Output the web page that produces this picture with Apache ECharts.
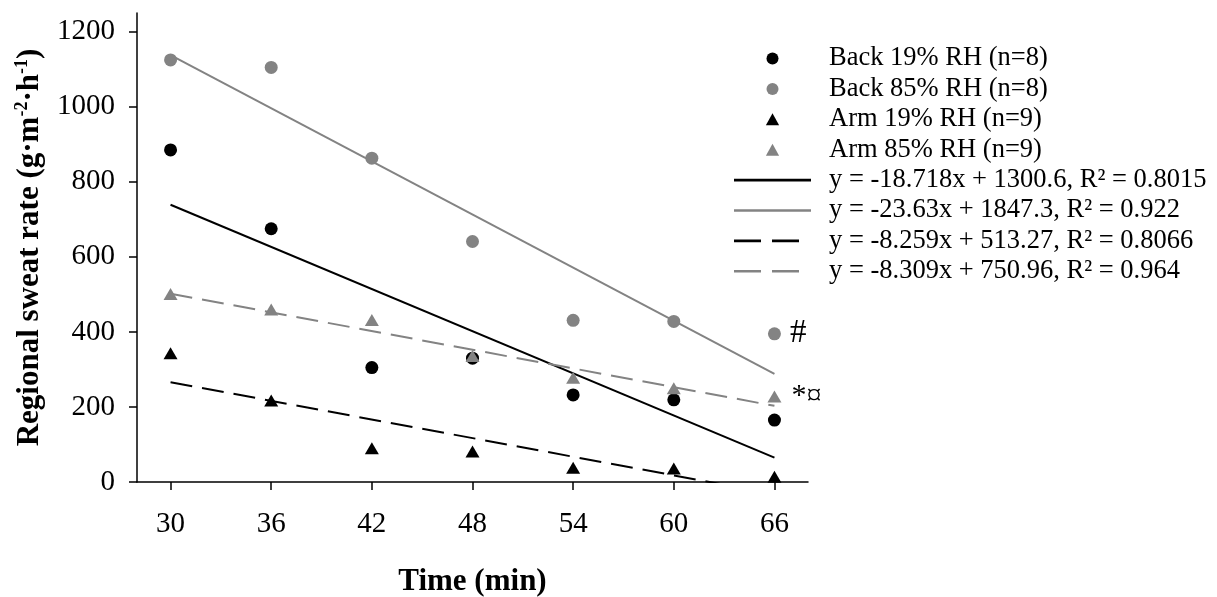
<!DOCTYPE html>
<html>
<head>
<meta charset="utf-8">
<script src="https://cdn.jsdelivr.net/npm/echarts@6/dist/echarts.min.js"></script>
<style>
  html, body { margin: 0; padding: 0; background: #fff; }
  #chart { width: 1217px; height: 597px; }
</style>
</head>
<body>
<div id="chart"></div>
<script>
  // time points (min)
  const times = [30, 36, 42, 48, 54, 60, 66];
  const yTicks = [0, 200, 400, 600, 800, 1000, 1200];

  // regional sweat rate
  const back19 = [885, 675, 305, 330, 232, 219, 165];
  const back85 = [1125, 1105, 863, 641, 431, 428, 395];
  const arm19 = [343, 217, 90, 81, 38, 36, 14];
  const arm85 = [501, 460, 432, 336, 278, 250, 228];

  // trend line end points (x = 30 and x = 66)
  const trendBack19 = [739, 65];
  const trendBack85 = [1138, 288];
  const trendArm19 = [266, -32];
  const trendArm85 = [502, 203];

  const names = [
    "Back 19% RH (n=8)",
    "Back 85% RH (n=8)",
    "Arm 19% RH (n=9)",
    "Arm 85% RH (n=9)",
    "y = -18.718x + 1300.6, R² = 0.8015",
    "y = -23.63x + 1847.3, R² = 0.922",
    "y = -8.259x + 513.27, R² = 0.8066",
    "y = -8.309x + 750.96, R² = 0.964",
  ];

  const GRAY = "#838383";
  const FONT = "Liberation Serif";

  // legend icons
  const TRI = "path://M5.5,0L11,10L0,10Z";
  const SOLID = "path://M0,0h77v2.6h-77z";
  const DASH = "path://M0,0h27v2.6h-27z M38,0h27v2.6h-27z M77,1.3";

  const pairs = (vals) => vals.map((v, i) => [times[i], v]);
  const ends = (t) => [[times[0], t[0]], [times[times.length - 1], t[1]]];

  // annotation labels on the last points
  const back85Data = pairs(back85);
  back85Data[6] = {
    value: back85Data[6],
    label: { show: true, position: "right", distance: 9, formatter: "#", fontSize: 33, color: "#000", fontFamily: FONT },
  };
  const arm85Data = pairs(arm85);
  arm85Data[6] = {
    value: arm85Data[6],
    label: { show: true, position: "right", distance: 10, formatter: "*¤", fontSize: 30, color: "#000", fontFamily: FONT },
  };

  const myChart = echarts.init(document.getElementById("chart"));
  const option = {
    animation: false,
    backgroundColor: "#fff",
    grid: { left: 137, top: 13, right: 409, bottom: 115, containLabel: false, outerBoundsMode: "none" },
    legend: {
      orient: "vertical",
      left: 734,
      top: 45,
      padding: 0,
      itemWidth: 77,
      itemHeight: 12,
      itemGap: 3.4,
      symbolKeepAspect: true,
      textStyle: { fontFamily: FONT, fontSize: 26.5, lineHeight: 27, color: "#000", padding: [0, 0, 0, 13] },
      data: [
        { name: names[0], icon: "circle" },
        { name: names[1], icon: "circle" },
        { name: names[2], icon: TRI },
        { name: names[3], icon: TRI },
        { name: names[4], icon: SOLID },
        { name: names[5], icon: SOLID },
        { name: names[6], icon: DASH },
        { name: names[7], icon: DASH },
      ],
    },
    xAxis: {
      type: "value",
      min: 28,
      max: 68,
      name: "Time (min)",
      nameLocation: "middle",
      nameGap: 84,
      nameTextStyle: { fontFamily: FONT, fontSize: 31, fontWeight: "bold", color: "#000" },
      axisLine: { lineStyle: { color: "#000", width: 1.5 } },
      axisTick: { customValues: times, length: 8, lineStyle: { color: "#000", width: 1.5 } },
      axisLabel: { customValues: times, margin: 28, fontFamily: FONT, fontSize: 29, color: "#000" },
      splitLine: { show: false },
    },
    yAxis: {
      type: "value",
      min: 0,
      max: 1250,
      name: "{a|Regional sweat rate (g·m}{s|-2}{a|·h}{s|-1}{a|)}",
      nameLocation: "middle",
      nameGap: 90,
      nameTextStyle: {
        rich: {
          a: { fontFamily: FONT, fontSize: 31, fontWeight: "bold", color: "#000", lineHeight: 34 },
          s: { fontFamily: FONT, fontSize: 18, fontWeight: "bold", color: "#000", lineHeight: 34, verticalAlign: "top" },
        },
      },
      axisLine: { show: true, lineStyle: { color: "#000", width: 1.5 } },
      axisTick: { show: true, customValues: yTicks, length: 8, lineStyle: { color: "#000", width: 1.5 } },
      axisLabel: {
        customValues: yTicks,
        margin: 22,
        fontFamily: FONT,
        fontSize: 29,
        color: "#000",
        formatter: (v) => String(v),
      },
      splitLine: { show: false },
    },
    series: [
      { name: names[0], type: "scatter", symbol: "circle", symbolSize: 13, itemStyle: { color: "#000", opacity: 1 }, data: pairs(back19), z: 3 },
      { name: names[1], type: "scatter", symbol: "circle", symbolSize: 13, itemStyle: { color: GRAY, opacity: 1 }, data: back85Data, z: 3 },
      { name: names[2], type: "scatter", symbol: "triangle", symbolSize: [14, 12], itemStyle: { color: "#000", opacity: 1 }, data: pairs(arm19), z: 3 },
      { name: names[3], type: "scatter", symbol: "triangle", symbolSize: [14, 12], itemStyle: { color: GRAY, opacity: 1 }, data: arm85Data, z: 3 },
      { name: names[4], type: "line", symbol: "none", lineStyle: { color: "#000", width: 2 }, itemStyle: { color: "#000" }, data: ends(trendBack19), z: 2 },
      { name: names[5], type: "line", symbol: "none", lineStyle: { color: GRAY, width: 2 }, itemStyle: { color: GRAY }, data: ends(trendBack85), z: 2 },
      { name: names[6], type: "line", symbol: "none", lineStyle: { color: "#000", width: 2, type: [22, 10] }, itemStyle: { color: "#000" }, data: ends(trendArm19), z: 2 },
      { name: names[7], type: "line", symbol: "none", lineStyle: { color: GRAY, width: 2, type: [22, 10] }, itemStyle: { color: GRAY }, data: ends(trendArm85), z: 2 },
    ],
  };
  myChart.setOption(option);
</script>
</body>
</html>
